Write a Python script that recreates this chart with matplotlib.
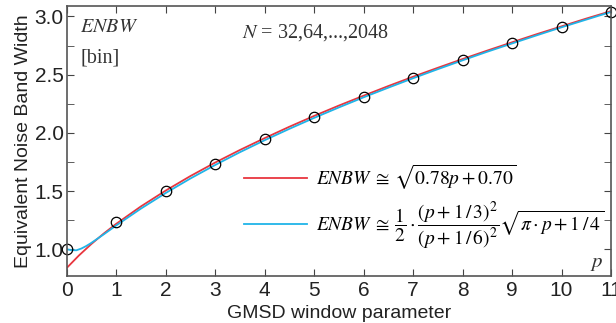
import numpy as np
import matplotlib.pyplot as plt
from matplotlib.ticker import MultipleLocator

plt.rcParams['font.family'] = ['Liberation Sans', 'DejaVu Sans']
plt.rcParams['mathtext.fontset'] = 'stix'

# values
p_red = [0, 0.25, 0.5, 0.75, 1, 1.5, 2, 2.5, 3, 3.5, 4, 4.5, 5, 5.5, 6, 6.5,
         7, 7.5, 8, 8.5, 9, 9.5, 10, 10.5, 11]
enbw_red = [0.837, 0.946, 1.044, 1.134, 1.217, 1.367, 1.503, 1.628, 1.744, 1.852,
            1.954, 2.052, 2.145, 2.234, 2.319, 2.402, 2.482, 2.559, 2.634, 2.707,
            2.778, 2.848, 2.915, 2.982, 3.046]

p_blue = [0, 0.1, 0.2, 0.3, 0.4, 0.5, 0.75, 1, 1.5, 2, 2.5, 3, 3.5, 4, 4.5, 5,
          5.5, 6, 6.5, 7, 7.5, 8, 8.5, 9, 9.5, 10, 10.5, 11]
enbw_blue = [1.0, 0.992, 0.991, 1.006, 1.028, 1.054, 1.127, 1.203, 1.348, 1.482,
             1.607, 1.723, 1.833, 1.936, 2.034, 2.128, 2.218, 2.305, 2.388, 2.469,
             2.547, 2.623, 2.697, 2.768, 2.838, 2.907, 2.973, 3.039]

p_meas = [0, 1, 2, 3, 4, 5, 6, 7, 8, 9, 10, 11]
enbw_meas = [1.0, 1.235, 1.50, 1.735, 1.945, 2.135, 2.31, 2.47, 2.625, 2.77, 2.91, 3.04]

fig = plt.figure(figsize=(6.16, 3.23), dpi=100)
ax = fig.add_axes([66.5 / 616, 1 - 276 / 323, (611 - 66.5) / 616, (276 - 6) / 323])

ax.plot(p_red, enbw_red, color='#e8363f', lw=1.3,
        label=r'$ENBW\;\cong\,\sqrt{0.78p + 0.70}$')
ax.plot(p_blue, enbw_blue, color='#20b4e8', lw=1.3,
        label=r'$ENBW\;\cong\,\dfrac{1}{2}\cdot\dfrac{(p + 1\,/\,3)^2}{(p + 1\,/\,6)^2}\sqrt{\pi\cdot p + 1\,/\,4}$')
ax.plot(p_meas, enbw_meas, 'o', mfc='none', mec='black', ms=7.5, mew=0.9, clip_on=False)

ax.set_xlim(0, 11)
ax.set_ylim(0.77, 3.09)
ax.xaxis.set_major_locator(MultipleLocator(1))
ax.yaxis.set_major_locator(MultipleLocator(0.5))
ax.yaxis.set_minor_locator(MultipleLocator(0.25))
ax.tick_params(which='both', direction='in', top=True, right=True,
               colors='#444444', labelcolor='#222222', labelsize=15)
ax.tick_params(which='both', length=5)
ax.tick_params(axis='y', pad=2)
ax.yaxis.set_major_formatter(plt.FormatStrFormatter('%.1f'))
for s in ax.spines.values():
    s.set_color('#555555')
    s.set_linewidth(1.2)

ax.set_xlabel('GMSD window parameter', fontsize=14, color='#222222', labelpad=3.5)
ax.set_ylabel('Equivalent Noise Band Width', fontsize=14, color='#222222', labelpad=2)

ax.text(0.025, 0.905, r'$ENBW$', transform=ax.transAxes, fontsize=14.5, color='#333333')
ax.text(0.025, 0.79, '[bin]', transform=ax.transAxes, fontsize=14.5,
        family='Liberation Serif', color='#333333')
ax.text(0.323, 0.885, r'$N$ = 32,64,...,2048', transform=ax.transAxes,
        fontsize=14.5, family='Liberation Serif', color='#333333')
ax.text(0.962, 0.035, r'$p$', transform=ax.transAxes, fontsize=15, color='#333333')

ax.legend(loc='upper left', bbox_to_anchor=(0.326, 0.42), frameon=False,
          borderpad=0, borderaxespad=0,
          fontsize=14, handlelength=3.25, labelspacing=0.4, handletextpad=0.45)

fig.savefig('out.png', dpi=100)
